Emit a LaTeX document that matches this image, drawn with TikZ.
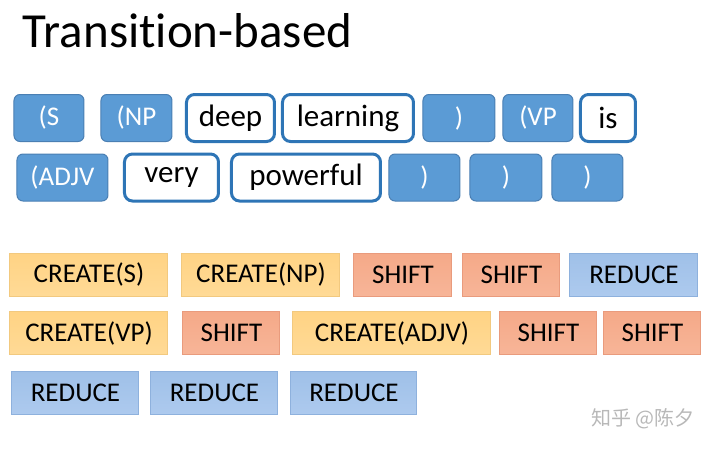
\documentclass[tikz,border=0pt]{standalone}
\usepackage{fontspec}
\setmainfont{Carlito}[Ligatures=NoCommon]
\newfontfamily\cjk{Noto Sans CJK SC}
\usepackage{xcolor}
\usepackage{tikz}
\usetikzlibrary{positioning}

\definecolor{tokfill}{HTML}{5B9BD5}
\definecolor{tokdraw}{HTML}{4A7FB3}
\definecolor{wordline}{HTML}{2E75B6}
\definecolor{createtop}{HTML}{FFD384}
\definecolor{createbot}{HTML}{FFDA96}
\definecolor{createline}{HTML}{F2C97F}
\definecolor{shifttop}{HTML}{F5A988}
\definecolor{shiftbot}{HTML}{F7B598}
\definecolor{shiftline}{HTML}{E99B7D}
\definecolor{reducetop}{HTML}{9FC0E8}
\definecolor{reducebot}{HTML}{ADCAEE}
\definecolor{reduceline}{HTML}{8EB1DD}

\begin{document}
\begin{tikzpicture}[
  x=0.5pt, y=-0.5pt,
  every node/.style={inner sep=0pt, outer sep=0pt},
  token/.style={rectangle, rounded corners=3pt, draw=tokdraw, line width=0.5pt, fill=tokfill, text=white, minimum height=23.5pt, font=\fontsize{13.5}{15}\selectfont},
  word/.style={rectangle, rounded corners=4pt, draw=wordline, line width=1.5pt, fill=white, minimum height=23.5pt, font=\fontsize{15.5}{18}\selectfont},
  action/.style={rectangle, line width=0.5pt, minimum height=21.5pt, font=\fontsize{13.5}{16}\selectfont},
  createbox/.style={action, draw=createline, top color=createtop, bottom color=createbot},
  shiftbox/.style={action, draw=shiftline, top color=shifttop, bottom color=shiftbot, minimum width=48.5pt},
  reducebox/.style={action, draw=reduceline, top color=reducetop, bottom color=reducebot},
]
  \useasboundingbox (0,0) rectangle (720,451);

  \node[anchor=base west, font=\fontsize{24.5}{29}\selectfont] (title) at (23,47) {Transit\kern0pt ion-based};

  \node[token, minimum width=35pt, anchor=west] (s) at (14,118) {(S};
  \node[token, minimum width=35.5pt, right=8.5pt of s] (np) {(NP};
  \node[word, minimum width=44pt, right=7.25pt of np] (deep) {deep};
  \node[word, minimum width=65.5pt, right=4pt of deep] (learning) {learning};
  \node[token, minimum width=36pt, right=4.75pt of learning] (close1) {)};
  \node[token, minimum width=35pt, right=4pt of close1] (vp) {(VP};
  \node[word, minimum width=27.5pt, right=3.75pt of vp] (is) {is};

  \node[token, minimum width=45.5pt, anchor=west] (adjv) at (17,177.5) {(ADJV};
  \node[word, minimum width=47pt, right=8.25pt of adjv] (very) {very};
  \node[word, minimum width=74.5pt, right=6.5pt of very] (powerful) {powerful};
  \node[token, minimum width=35.5pt, right=4.25pt of powerful] (close2) {)};
  \node[token, minimum width=36pt, right=5pt of close2] (close3) {)};
  \node[token, minimum width=35.5pt, right=5pt of close3] (close4) {)};

  \node[createbox, minimum width=79pt, anchor=west] (creates) at (10,274.5) {CREATE(S)};
  \node[createbox, minimum width=79pt, right=7pt of creates] (createnp) {CREATE(NP)};
  \node[shiftbox, minimum width=49pt, right=7pt of createnp] (shift1) {SHIFT};
  \node[shiftbox, right=5.5pt of shift1] (shift2) {SHIFT};
  \node[reducebox, minimum width=64pt, right=5pt of shift2] (reduce1) {REDUCE};

  \node[createbox, minimum width=79pt, anchor=west] (createvp) at (10,333) {CREATE(VP)};
  \node[shiftbox, right=7.5pt of createvp] (shift3) {SHIFT};
  \node[createbox, minimum width=99pt, right=6.5pt of shift3] (createadjv) {CREATE(ADJV)};
  \node[shiftbox, right=4.5pt of createadjv] (shift4) {SHIFT};
  \node[shiftbox, right=3.5pt of shift4] (shift5) {SHIFT};

  \node[reducebox, minimum width=63.5pt, anchor=west] (reduce2) at (12,393) {REDUCE};
  \node[reducebox, minimum width=63.5pt, right=6pt of reduce2] (reduce3) {REDUCE};
  \node[reducebox, minimum width=63pt, right=6.5pt of reduce3] (reduce4) {REDUCE};

  \node[font=\cjk\fontsize{10}{12}\selectfont, text=black!28] (mark) at (643,419) {知乎 @陈夕};
\end{tikzpicture}
\end{document}
